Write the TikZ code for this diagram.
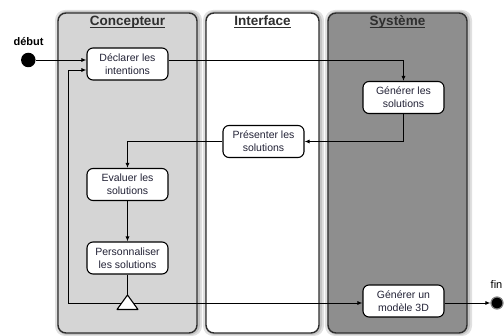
\documentclass[tikz,border=0pt]{standalone}
\usepackage{fontspec}
\setmainfont{Liberation Sans}
\usetikzlibrary{arrows.meta,calc}
\definecolor{laneA}{HTML}{D5D5D5}
\definecolor{laneC}{HTML}{8E8E8E}
\definecolor{lanedraw}{HTML}{2E2E2E}
\definecolor{txt}{HTML}{222236}
\begin{document}
\begin{tikzpicture}[x=1pt,y=-1pt,
  lane/.style={draw=lanedraw, line width=1.4pt, rounded corners=8pt},
  glow/.style={fill=black, opacity=0.12, rounded corners=10pt},
  act/.style={draw=black, fill=white, line width=1.1pt, rounded corners=6pt, minimum width=81pt, minimum height=32pt, align=center, inner sep=0pt, font=\fontsize{10.5}{13}\selectfont, text=txt},
  title/.style={font=\fontsize{13.5}{16}\selectfont\bfseries, text=lanedraw, inner sep=0pt, anchor=base},
  flow/.style={line width=0.9pt, -{Latex[length=5pt,width=4pt]}},
  plain/.style={line width=0.9pt},
  lbl/.style={font=\fontsize{11}{13}\selectfont, inner sep=0pt, anchor=base}
]
\useasboundingbox (0,0) rectangle (504,336);
\fill[white] (0,0) rectangle (504,336);
% soft shadows round the lanes
\foreach \a/\b in {58/197,206/319,328/467} {
  \fill[glow] (\a-3,10) rectangle (\b+5,336);
  \fill[glow] (\a-1,11) rectangle (\b+3,335);
}
% lanes
\filldraw[lane, fill=laneA] (58,13) rectangle (197,333);
\filldraw[lane, fill=white] (206,13) rectangle (319,333);
\filldraw[lane, fill=laneC] (328,13) rectangle (467,333);
% titles
\node[title] (tC) at (127.5,26) {Concepteur};
\node[title] (tI) at (262.5,26) {Interface};
\node[title] (tS) at (397.5,26) {Système};
\foreach \t in {tC,tI,tS}
  \draw[lanedraw, line width=1pt] ([yshift=-2pt]\t.base west) -- ([yshift=-2pt]\t.base east);
% activities
\node[act] (decl) at (127.5,64) {Déclarer les\\intentions};
\node[act] (gen) at (403.5,97.5) {Générer les\\solutions};
\node[act] (pres) at (263.5,141.5) {Présenter les\\solutions};
\node[act] (eval) at (127.5,184.5) {Evaluer les\\solutions};
\node[act] (pers) at (127.5,258) {Personnaliser\\les solutions};
\node[act] (gen3d) at (403.5,301) {Générer un\\modèle 3D};
% start / end
\node[circle, fill=black, minimum size=14.5pt, inner sep=0pt] (start) at (28.3,60) {};
\node[lbl, font=\fontsize{11}{13}\selectfont\bfseries] (startl) at (28.5,46) {début};
\node[circle, fill=black, draw=gray, line width=1.2pt, minimum size=12pt, inner sep=0pt] (end) at (497,303) {};
\node[lbl] (endl) at (496.5,288.5) {fin};
% merge triangle
\coordinate (tri) at (127.5,303);
\coordinate (triTop) at (127.5,295);
\coordinate (loop) at (68,303);
% connectors
\draw[flow] (start) -- ([yshift=4pt]decl.west);
\draw[flow] ([yshift=4pt]decl.east) -| (gen.north);
\draw[flow] (gen.south) |- (pres.east);
\draw[flow] (pres.west) -| (eval.north);
\draw[flow] (eval) -- (pers);
\draw[plain] (pers.south) -- (triTop);
\draw[flow] (tri) -- (loop) |- ([yshift=-6pt]decl.west);
\draw[flow] (tri) -- (gen3d.west |- tri);
\draw[flow] (gen3d.east |- tri) -- (end);
\filldraw[fill=white, draw=black, line width=1.1pt, line join=round] (triTop) -- ++(-10.5,14.5) -- ++(21,0) -- cycle;
\end{tikzpicture}
\end{document}
